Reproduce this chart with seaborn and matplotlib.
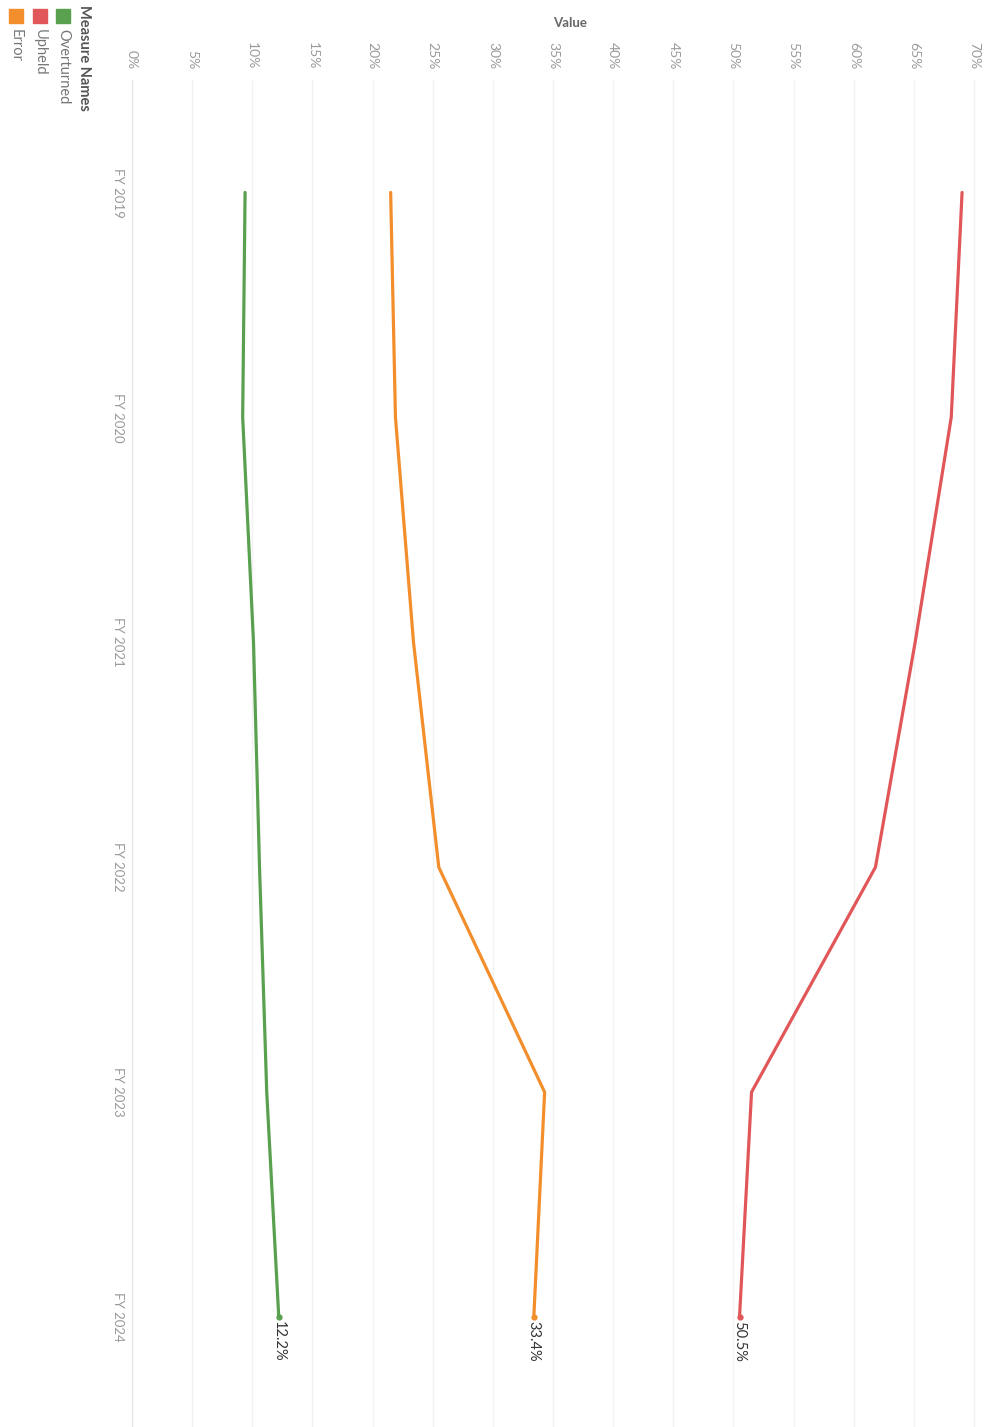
import matplotlib
matplotlib.use("Agg")
import matplotlib.pyplot as plt
import seaborn as sns
import pandas as pd
from matplotlib.patches import Rectangle

years = ["FY 2019", "FY 2020", "FY 2021", "FY 2022", "FY 2023", "FY 2024"]
overturned = [9.4, 9.2, 10.1, 10.6, 11.2, 12.2]
upheld = [69.0, 68.1, 65.1, 61.8, 51.5, 50.5]
error = [21.5, 21.9, 23.4, 25.5, 34.3, 33.4]
measures = ["Overturned", "Upheld", "Error"]
colors = {"Overturned": "#59a14f", "Upheld": "#e15759", "Error": "#f28e2b"}
value_ticks = list(range(0, 75, 5))

sns.set_theme(style="white")
plt.rcParams["font.family"] = ["Lato", "DejaVu Sans"]

rows = []
for m, vals in zip(measures, [overturned, upheld, error]):
    for i, (y, v) in enumerate(zip(years, vals)):
        rows.append({"measure": m, "year": y, "pos": i, "value": v})
df = pd.DataFrame(rows)

W, H = 993, 1427
fig = plt.figure(figsize=(W / 100, H / 100), dpi=100)
left, right, top, bottom = 132, 993, 80, 1427
ax = fig.add_axes([left / W, 1 - bottom / H, (right - left) / W, (bottom - top) / H])

sns.lineplot(data=df, x="value", y="pos", hue="measure", palette=colors,
             orient="y", linewidth=2.3, legend=False, ax=ax)

ax.set_xlim(0, (right - left) / 12.03)
ax.set_ylim(5.5 - 2.5 / 225, -0.5)

ax.set_xticks(value_ticks)
ax.set_xticklabels([f"{t}%" for t in value_ticks], rotation=-90, fontsize=10, color="#9a9a9a")
ax.xaxis.tick_top()
ax.tick_params(axis="x", length=0, pad=8)
ax.set_yticks(range(len(years)))
ax.set_yticklabels(years, rotation=-90, fontsize=9.5, color="#9a9a9a", va="center")
ax.set_xlabel("")
ax.set_ylabel("")
for t in ax.get_yticklabels():
    t.set_horizontalalignment("center")
ax.tick_params(axis="y", length=0, pad=10)

ax.grid(axis="x", color="#f2f2f2", linewidth=1)
for s in ["top", "right", "bottom"]:
    ax.spines[s].set_visible(False)
ax.spines["left"].set_color("#e8e8e8")
ax.spines["left"].set_linewidth(1)

# end labels and markers
for m, vals in zip(measures, [overturned, upheld, error]):
    ax.plot(vals[-1], len(years) - 1, "o", color=colors[m], markersize=3.5)
    ax.annotate(f"{vals[-1]:.1f}%", (vals[-1], len(years) - 1), xytext=(0, -3),
                textcoords="offset points", rotation=-90, ha="center", va="top",
                fontsize=10.5, color="#333333")

fig.text(570 / W, 1 - 23 / H, "Value", ha="center", va="center", fontsize=9.5,
         color="#666666", fontweight="bold")

# legend (rotated)
fig.text(84 / W, 1 - 5 / H, "Measure Names", rotation=-90, ha="center", va="top",
         fontsize=10.5, color="#555555", fontweight="bold")
leg_x = {"Overturned": 63, "Upheld": 40, "Error": 16}
for m in measures:
    x = leg_x[m]
    fig.patches.append(Rectangle(((x - 7) / W, 1 - 23 / H), 14 / W, 14 / H,
                                 transform=fig.transFigure, color=colors[m]))
    fig.text(x / W, 1 - 29 / H, m, rotation=-90, ha="center", va="top",
             fontsize=10.5, color="#777777")

fig.savefig("out.png", dpi=100, facecolor="white")
